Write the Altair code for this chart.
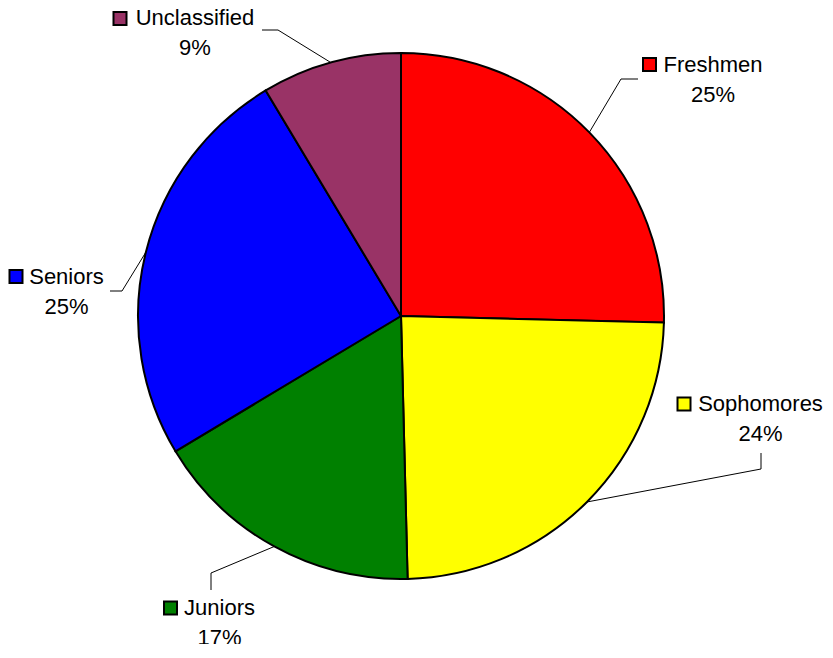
import math
import altair as alt
import pandas as pd

# ---- data ----
categories = ["Freshmen", "Sophomores", "Juniors", "Seniors", "Unclassified"]
values = [25.4, 24.2, 16.8, 25.0, 8.6]
colors = ["#FF0000", "#FFFF00", "#008000", "#0000FF", "#993366"]

# ---- layout (page pixel coordinates) ----
ORIGIN = 18          # page position of view origin (8 body margin + 10 padding)
CX, CY = 401, 316    # pie centre on page
R = 263              # pie radius
W, H = 2 * (CX - ORIGIN), 2 * (CY - ORIGIN)
SVG_W, SVG_H = 817, 636

label_x = [713, 760.5, 219.5, 66.5, 195]          # text centre
label_base = [72, 411, 615, 284, 25]              # first-line baseline
line_gap = 29.5
key_x = [649.5, 684, 170.5, 16, 120]
key_y = [64.5, 404, 608, 276.5, 18.5]
elbow = [(621, 79), (761, 469), (211, 573), (122, 291), (278, 30)]
leader_end = [(638, 79), (761, 453), (211, 590), (110, 291), (262, 30)]

df = pd.DataFrame({"cat": categories, "value": values, "idx": list(range(len(values)))})

pie = alt.Chart(df).mark_arc(outerRadius=R, stroke="black", strokeWidth=2).encode(
    theta=alt.Theta("value:Q", stack=True),
    order=alt.Order("idx:Q"),
    color=alt.Color("cat:N", scale=alt.Scale(domain=categories, range=colors), legend=None),
)

# leader lines: start at slice mid-angle on pie edge
total = sum(values)
rows = []
cum = 0.0
for i, (c, v) in enumerate(zip(categories, values)):
    mid = (cum + v / 2) / total * 2 * math.pi
    cum += v
    sx = CX + R * math.sin(mid)
    sy = CY - R * math.cos(mid)
    pts = [(sx, sy), elbow[i], leader_end[i]]
    for j, (px, py) in enumerate(pts):
        rows.append({"cat": c, "seg": j, "px": px - ORIGIN, "py": py - ORIGIN})
lines_df = pd.DataFrame(rows)

leaders = alt.Chart(lines_df).mark_line(color="black", strokeWidth=1).encode(
    x=alt.X("px:Q", scale=None),
    y=alt.Y("py:Q", scale=None),
    detail="cat:N",
    order=alt.Order("seg:Q"),
)

lab_df = pd.DataFrame({
    "cat": categories,
    "value": values,
    "lx": [x - ORIGIN for x in label_x],
    "ly": [y - ORIGIN for y in label_base],
    "ly2": [y + line_gap - ORIGIN for y in label_base],
    "kx": [x - ORIGIN for x in key_x],
    "ky": [y - ORIGIN for y in key_y],
})

font = "Liberation Sans"
names = alt.Chart(lab_df).mark_text(font=font, fontSize=22, align="center", baseline="alphabetic", color="black").encode(
    x=alt.X("lx:Q", scale=None), y=alt.Y("ly:Q", scale=None), text="cat:N"
)
pcts = alt.Chart(lab_df).transform_joinaggregate(total="sum(value)").transform_calculate(
    pct="datum.value / datum.total"
).mark_text(font=font, fontSize=22, align="center", baseline="alphabetic", color="black").encode(
    x=alt.X("lx:Q", scale=None), y=alt.Y("ly2:Q", scale=None), text=alt.Text("pct:Q", format=".0%")
)
keys = alt.Chart(lab_df).mark_square(size=169, stroke="black", strokeWidth=2, opacity=1, filled=True).encode(
    x=alt.X("kx:Q", scale=None), y=alt.Y("ky:Q", scale=None),
    color=alt.Color("cat:N", scale=alt.Scale(domain=categories, range=colors), legend=None),
)

chart = alt.layer(leaders, pie, keys, names, pcts).properties(
    width=W, height=H,
    padding={"left": 10, "top": 10, "right": SVG_W - 10 - W, "bottom": SVG_H - 10 - H},
    autosize=alt.AutoSizeParams(type="none"),
).configure_view(stroke=None)

chart.save("out.html", embed_options={"renderer": "svg", "actions": False})
